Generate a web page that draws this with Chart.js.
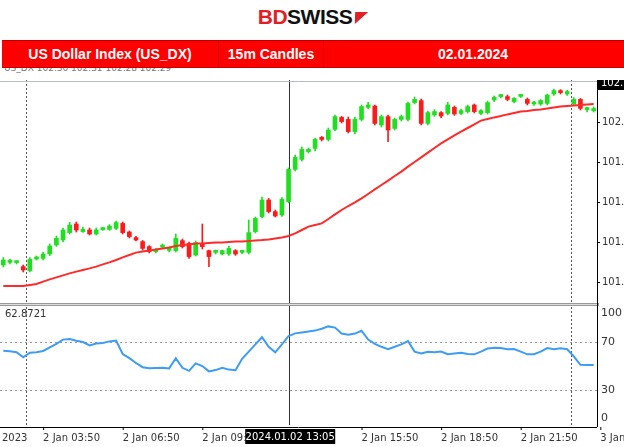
<!DOCTYPE html>
<html><head><meta charset="utf-8">
<script src="https://cdn.jsdelivr.net/npm/chart.js@4.4.0/dist/chart.umd.min.js"></script>
<style>
body{margin:0;width:624px;height:447px;background:#fff;position:relative;overflow:hidden;font-family:"Liberation Sans",Arial,sans-serif}
#logo{position:absolute;top:5px;left:0;width:624px;text-align:center;font:bold 21px "Liberation Sans",Arial;letter-spacing:-0.5px}
#bar{position:absolute;z-index:2;top:40px;left:2px;width:622px;height:26px;background:#ff0000;border-top:1px solid #b00;border-bottom:1px solid #c00;color:#fff;font:bold 14px "Liberation Sans",Arial}
#bar div{position:absolute;top:0;height:26px;line-height:26px;text-align:center}
#ohlc{position:absolute;z-index:1;top:63px;left:4px;font:9px "DejaVu Sans";color:#777}
#c1{position:absolute;top:80px;left:0}
#c2{position:absolute;top:303px;left:0}
</style></head><body>
<div id="logo"><span style="color:#e41e26">BD</span><span style="color:#111">SWISS</span><span style="display:inline-block;width:0;height:0;border-left:4px solid transparent;border-right:9px solid transparent;border-top:12px solid #e41e26;margin-left:1px;transform:skewX(-20deg)"></span></div>
<div id="bar"><div style="left:0;width:216px">US Dollar Index (US_DX)</div><div style="left:216px;width:104px;border-left:1px solid #c00;border-right:1px solid #c00">15m Candles</div><div style="left:320px;width:302px">02.01.2024</div></div>
<div id="ohlc">US_DX 102.30 102.31 102.28 102.29</div>
<canvas id="c1" width="624" height="223"></canvas>
<canvas id="c2" width="624" height="144"></canvas>
<script>
const opens=[101.335,101.348,101.347,101.327,101.307,101.365,101.368,101.39,101.435,101.46,101.497,101.54,101.502,101.51,101.49,101.512,101.513,101.518,101.543,101.5,101.472,101.452,101.427,101.402,101.425,101.408,101.407,101.457,101.443,101.385,101.443,101.407,101.398,101.39,101.39,101.407,101.398,101.398,101.502,101.577,101.66,101.602,101.585,101.652,101.813,101.863,101.902,101.918,101.973,101.963,102.013,102.073,102.063,102.002,102.063,102.123,102.13,102.035,102.077,102.018,102.063,102.063,102.147,102.157,102.043,102.085,102.097,102.093,102.123,102.093,102.102,102.135,102.093,102.097,102.16,102.177,102.177,102.152,102.178,102.163,102.14,102.14,102.143,102.19,102.207,102.19,102.14,102.163,102.112,102.107];
const closes=[101.36,101.355,101.348,101.31,101.363,101.372,101.39,101.43,101.468,101.51,101.535,101.51,101.513,101.49,101.51,101.515,101.53,101.547,101.497,101.477,101.46,101.418,101.402,101.41,101.428,101.412,101.468,101.427,101.377,101.447,101.427,101.377,101.403,101.407,101.418,101.39,101.403,101.497,101.568,101.66,101.602,101.58,101.663,101.813,101.873,101.913,101.913,101.963,101.963,102.01,102.077,102.052,102.002,102.063,102.127,102.135,102.043,102.077,102.01,102.063,102.077,102.143,102.163,102.043,102.097,102.102,102.08,102.135,102.09,102.107,102.127,102.102,102.107,102.147,102.173,102.182,102.163,102.168,102.182,102.143,102.147,102.157,102.185,102.207,102.197,102.202,102.163,102.118,102.115,102.113];
const highs=[101.372,101.365,101.352,101.335,101.372,101.38,101.398,101.44,101.48,101.52,101.548,101.55,101.525,101.52,101.52,101.522,101.537,101.555,101.55,101.505,101.478,101.458,101.432,101.418,101.44,101.425,101.49,101.465,101.45,101.455,101.54,101.41,101.41,101.41,101.43,101.412,101.408,101.56,101.575,101.675,101.668,101.61,101.672,101.82,101.885,101.925,101.92,101.97,101.978,102.02,102.085,102.078,102.075,102.075,102.135,102.148,102.135,102.085,102.085,102.07,102.085,102.15,102.175,102.165,102.105,102.112,102.102,102.148,102.13,102.115,102.135,102.14,102.112,102.155,102.18,102.188,102.185,102.172,102.188,102.17,102.155,102.162,102.19,102.215,102.212,102.208,102.172,102.168,102.125,102.125];
const lows=[101.325,101.34,101.34,101.3,101.3,101.36,101.36,101.382,101.428,101.45,101.49,101.5,101.498,101.485,101.485,101.508,101.508,101.512,101.49,101.47,101.455,101.41,101.395,101.396,101.42,101.4,101.4,101.42,101.368,101.38,101.415,101.327,101.39,101.385,101.383,101.383,101.392,101.39,101.495,101.57,101.595,101.575,101.578,101.645,101.805,101.855,101.895,101.905,101.955,101.955,102.005,102.045,101.995,101.99,102.055,102.115,102.035,102.025,101.952,102.01,102.055,102.055,102.14,102.035,102.035,102.078,102.072,102.085,102.083,102.087,102.095,102.095,102.087,102.09,102.152,102.17,102.156,102.145,102.172,102.135,102.133,102.133,102.135,102.183,102.19,102.183,102.133,102.11,102.1,102.1];
const maValues=[101.23,101.23,101.23,101.23,101.235,101.24,101.252,101.263,101.273,101.283,101.293,101.302,101.31,101.318,101.327,101.338,101.348,101.36,101.373,101.385,101.397,101.402,101.407,101.412,101.418,101.423,101.43,101.435,101.438,101.442,101.443,101.445,101.447,101.448,101.45,101.452,101.453,101.455,101.458,101.46,101.463,101.468,101.473,101.48,101.493,101.51,101.527,101.535,101.543,101.565,101.588,101.61,101.63,101.648,101.668,101.69,101.713,101.735,101.757,101.78,101.802,101.827,101.85,101.873,101.897,101.92,101.943,101.963,101.983,102.002,102.02,102.038,102.057,102.065,102.073,102.08,102.088,102.095,102.102,102.105,102.11,102.113,102.118,102.123,102.127,102.13,102.133,102.135,102.138,102.14];
const rsiValues=[62.8,62.3,61.5,57.2,61.1,61.4,62.5,65.5,68.5,72,72.5,71.1,70,67.2,68.8,69.2,70.5,71.2,60,56.5,52.5,49,48.1,48.3,48.6,48,56.4,48.5,46,52.2,50,45.5,46.6,48.5,47,46.5,56,62,68,74,66,61.4,68,75,77.2,78,78.8,79.5,81,83,82,77,76,77,79.4,72,68.5,66,64,66,68,70.8,62,60.5,61.9,61.5,62,59.8,60.5,61,60,59.7,62,64.6,65.3,65,64,64.2,62,59.7,59.8,62,65,64,64.7,64,58,51,50.8,50.8];
const priceTicks=[102.05,101.85,101.65,101.45,101.25];
const priceTickLabels=["102.","101.","101.","101.","101."];
const rsiTicks=[100,70,30,0];
const timeTickIdx=[-6,6,18,30,54,66,78,90];
const timeTickLabels=["31 Dec 2023","2 Jan 03:50","2 Jan 06:50","2 Jan 09:50","2 Jan 15:50","2 Jan 18:50","2 Jan 21:50","3 Jan"];
const vLines=[{i:3.4,dash:[2,2]},{i:43.1,dash:[]},{i:85.6,dash:[2,2]}];
const cursorLabel="2024.01.02 13:05";
const rsiLabel="62.8721";
const labels=opens.map((_,i)=>i);
const N=labels.length;
const GREEN='#1fe01f',RED='#ff1a1a';
const col=opens.map((o,i)=>closes[i]>=o?GREEN:RED);
function xpx(ca,i){return ca.left+(i+0.5)*(ca.right-ca.left)/N;}
function vlinePlugin(){return{id:'vl',beforeDatasetsDraw(ch){const c=ch.ctx,ca=ch.chartArea;c.save();vLines.forEach(v=>{c.strokeStyle=v.dash.length?'#555':'#333';c.lineWidth=1;c.setLineDash(v.dash);const x=Math.round(xpx(ca,v.i))+0.5;c.beginPath();c.moveTo(x,0);c.lineTo(x,ch.height-(ch.canvas.id=='c2'?22:0));c.stroke();});c.restore();}};}
const base={responsive:false,animation:false,devicePixelRatio:1,plugins:{legend:{display:false},tooltip:{enabled:false}}};
new Chart(document.getElementById('c1'),{
 data:{labels,datasets:[
  {type:'line',data:maValues,borderColor:'#ff2a2a',borderWidth:2,pointRadius:0,tension:0,order:0},
  {type:'bar',data:opens.map((o,i)=>[o,closes[i]]),backgroundColor:col,barThickness:4,minBarLength:2,grouped:false,order:1},
  {type:'bar',data:lows.map((l,i)=>[l,highs[i]]),backgroundColor:col,barThickness:1,grouped:false,order:2}
 ]},
 options:{...base,layout:{padding:{left:0,right:27,top:1,bottom:0}},
  scales:{x:{display:false,offset:true},y:{display:false,min:101.145,max:102.255}},
  plugins:{...base.plugins}},
 plugins:[vlinePlugin(),{id:'ax',afterDraw(ch){const c=ch.ctx,ca=ch.chartArea,y=ch.scales.y;c.save();
  c.strokeStyle='#b8bcc4';c.beginPath();c.moveTo(0,1.5);c.lineTo(ca.right,1.5);c.stroke();
  c.strokeStyle='#000';c.beginPath();c.moveTo(ca.right+0.5,0);c.lineTo(ca.right+0.5,ch.height);c.stroke();
  c.font='10px "DejaVu Sans"';c.fillStyle='#333';c.textBaseline='middle';
  priceTicks.forEach((t,k)=>{const py=y.getPixelForValue(t);c.beginPath();c.moveTo(ca.right,py+0.5);c.lineTo(ca.right+3,py+0.5);c.stroke();c.fillText(priceTickLabels[k],ca.right+5,py);});
  c.fillStyle='#000';c.fillRect(ca.right+1,-4,27,14);c.fillStyle='#fff';c.fillText('102.',ca.right+4,3);
  c.restore();}}]
});
new Chart(document.getElementById('c2'),{
 type:'line',
 data:{labels,datasets:[{data:rsiValues,borderColor:'#3d9cf5',borderWidth:2,pointRadius:0,tension:0}]},
 options:{...base,layout:{padding:{left:0,right:27,top:3,bottom:21}},
  scales:{x:{display:false,offset:true},y:{display:false,min:0,max:100}}},
 plugins:[vlinePlugin(),{id:'g',beforeDatasetsDraw(ch){const c=ch.ctx,ca=ch.chartArea,y=ch.scales.y;c.save();c.strokeStyle='#999';c.setLineDash([2,3]);[70,30].forEach(v=>{const py=Math.round(y.getPixelForValue(v))+0.5;c.beginPath();c.moveTo(0,py);c.lineTo(ca.right,py);c.stroke();});c.restore();},
 afterDraw(ch){const c=ch.ctx,ca=ch.chartArea,y=ch.scales.y;c.save();
  c.fillStyle='#999';c.fillRect(0,0,ca.right+2,3);c.fillStyle='#ddd';c.fillRect(0,1,ca.right,1);
  c.strokeStyle='#000';c.beginPath();c.moveTo(ca.right+0.5,0);c.lineTo(ca.right+0.5,ca.bottom+1);c.stroke();
  c.beginPath();c.moveTo(0,ca.bottom+1.5);c.lineTo(ca.right,ca.bottom+1.5);c.stroke();
  c.font='11px "DejaVu Sans"';c.fillStyle='#333';c.textBaseline='middle';
  const ly={100:10,70:y.getPixelForValue(70),30:y.getPixelForValue(30),0:ca.bottom-8};
  rsiTicks.forEach(t=>c.fillText(String(t),ca.right+4,ly[t]));
  c.font='10px "DejaVu Sans"';c.fillText(rsiLabel,5,11);
  c.textBaseline='alphabetic';c.font='10px "DejaVu Sans"';
  timeTickIdx.forEach((i,k)=>{const x=xpx(ca,i);c.beginPath();c.moveTo(x+0.5,ca.bottom+1);c.lineTo(x+0.5,ca.bottom+4);c.stroke();c.fillText(timeTickLabels[k],x,ca.bottom+15);});
  const cx=xpx(ca,vLines[1].i);c.fillStyle='#000';c.fillRect(cx-44,ca.bottom+3,90,15);c.fillStyle='#fff';c.textAlign='center';c.fillText(cursorLabel,cx+1,ca.bottom+14);
  c.restore();}}]
});
</script></body></html>
